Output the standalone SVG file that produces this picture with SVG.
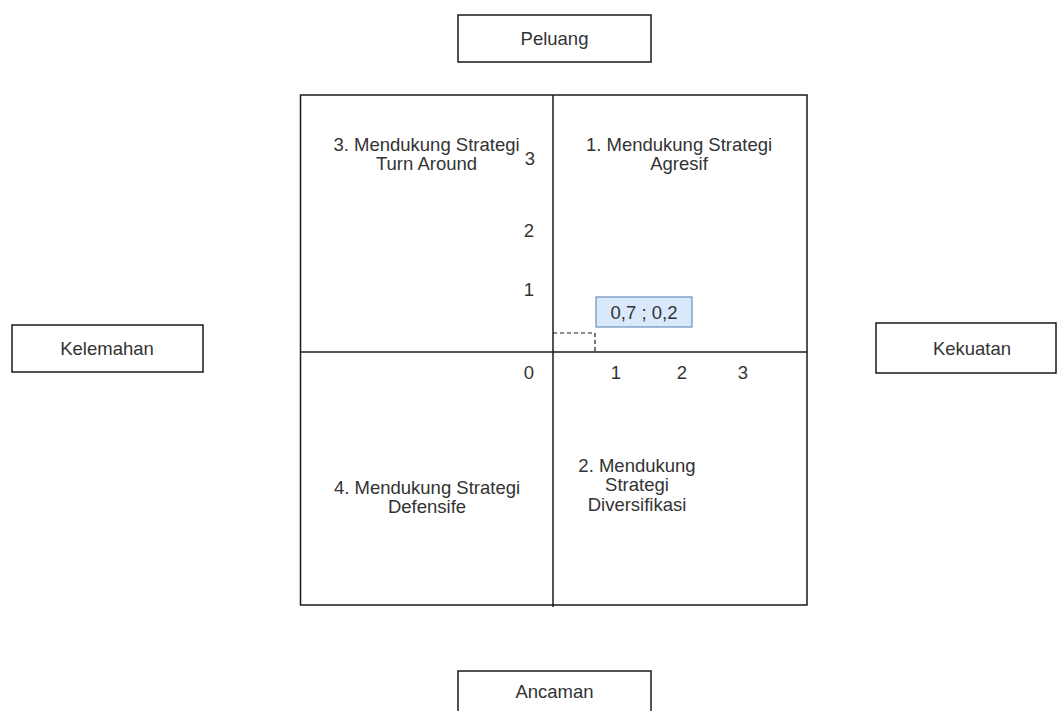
<svg xmlns="http://www.w3.org/2000/svg" width="1058" height="711" viewBox="0 0 1058 711">
  <style>
    text { font-family: "Liberation Sans", Arial, sans-serif; font-size: 18.5px; fill: #333333; text-anchor: middle; }
    .box { fill: #ffffff; stroke: #1a1a1a; stroke-width: 1.5; }
    .axis { stroke: #1a1a1a; stroke-width: 1.5; fill: none; }
    .dash { stroke: #1a1a1a; stroke-width: 1.2; stroke-dasharray: 4 3; fill: none; }
    .point { fill: #dae8fc; stroke: #6c8ebf; stroke-width: 1.2; }
  </style>
  <rect width="1058" height="711" fill="#ffffff"/>

  <g id="matrix">
    <rect class="box" x="300.5" y="95" width="506.5" height="510"/>
  </g>

  <g id="connectors">
    <line class="axis" x1="553" y1="95" x2="553" y2="607"/>
    <line class="axis" x1="300.5" y1="352" x2="807" y2="352"/>
    <polyline class="dash" points="553,333 595,333 595,352"/>
  </g>

  <g id="peluang">
    <rect class="box" x="458" y="15" width="193" height="47"/>
    <text x="554.5" y="45">Peluang</text>
  </g>
  <g id="kelemahan">
    <rect class="box" x="12" y="325" width="191" height="47"/>
    <text x="107" y="355">Kelemahan</text>
  </g>
  <g id="kekuatan">
    <rect class="box" x="876" y="323" width="180" height="50"/>
    <text x="972" y="355">Kekuatan</text>
  </g>
  <g id="ancaman">
    <rect class="box" x="458" y="671" width="193" height="50"/>
    <text x="554.5" y="698">Ancaman</text>
  </g>

  <g id="q3">
    <text x="426.5" y="151">3. Mendukung Strategi</text>
    <text x="426.5" y="170">Turn Around</text>
  </g>
  <g id="q1">
    <text x="679" y="151">1. Mendukung Strategi</text>
    <text x="679" y="170">Agresif</text>
  </g>
  <g id="q4">
    <text x="427" y="494">4. Mendukung Strategi</text>
    <text x="427" y="513">Defensife</text>
  </g>
  <g id="q2">
    <text x="637" y="472">2. Mendukung</text>
    <text x="637" y="491">Strategi</text>
    <text x="637" y="511">Diversifikasi</text>
  </g>

  <g id="y-labels">
    <text x="530" y="165">3</text>
    <text x="529" y="237">2</text>
    <text x="529" y="296">1</text>
    <text x="529" y="379">0</text>
  </g>
  <g id="x-labels">
    <text x="616" y="379">1</text>
    <text x="682" y="379">2</text>
    <text x="743" y="379">3</text>
  </g>

  <g id="point">
    <rect class="point" x="596" y="297" width="96" height="30"/>
    <text x="644" y="319">0,7 ; 0,2</text>
  </g>
</svg>
